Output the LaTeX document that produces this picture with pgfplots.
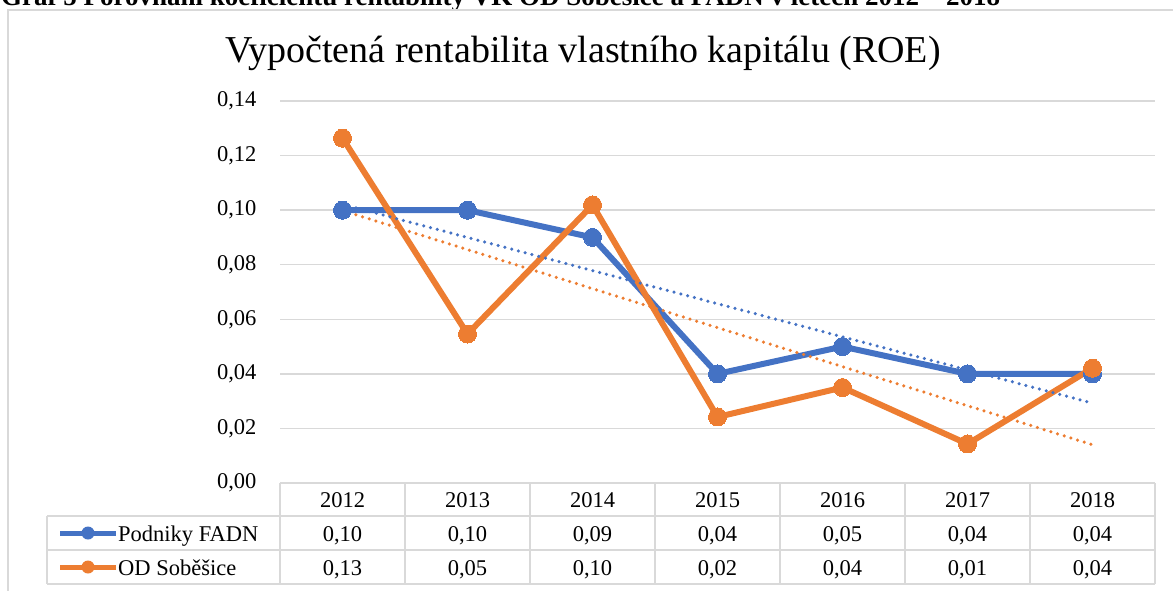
\documentclass[border=0pt]{standalone}
\usepackage{pgfplots}
\usepackage{pgfplotstable}
\pgfplotsset{compat=1.18}
\usepackage{fontspec}
\setmainfont{Liberation Serif}
\definecolor{cblue}{HTML}{4472C4}
\definecolor{corange}{HTML}{ED7D31}
\definecolor{cgrid}{HTML}{D9D9D9}

\pgfplotstableread{
x year fadn od
0 2012 0.10 0.1264
1 2013 0.10 0.0546
2 2014 0.09 0.1019
3 2015 0.04 0.0242
4 2016 0.05 0.0350
5 2017 0.04 0.0143
6 2018 0.04 0.0421
}\datatable

\newcommand{\tsz}{\fontsize{22.5}{26}\selectfont}
\begin{document}
\begin{tikzpicture}
\begin{scope}[x=1pt,y=1pt]
\useasboundingbox (0,0) rectangle (1173,-590);
% cut-off caption above the chart
\node[anchor=base west, inner sep=0pt, font=\fontsize{27}{30}\selectfont\bfseries] at (1,-5) {Graf 5 Porovnání koeficientu rentability VK OD Soběšice a FADN v letech 2012 – 2018};
% chart area border
\draw[cgrid, line width=1.5] (8,-600) -- (8,-10) -- (1180,-10);
% title
\node[anchor=base, inner sep=0pt, font=\fontsize{38}{44}\selectfont] at (583,-62) {Vypočtená rentabilita vlastního kapitálu (ROE)};
\end{scope}
\begin{axis}[
  at={(280pt,-483pt)}, anchor=south west,
  scale only axis, width=875pt, height=382pt,
  xmin=-0.5, xmax=6.5, ymin=0, ymax=0.14,
  ytick={0,0.02,0.04,0.06,0.08,0.10,0.12,0.14},
  xtick=\empty,
  axis line style={draw=none},
  major tick length=0pt,
  ymajorgrids,
  grid style={cgrid, line width=1.5pt},
  clip=false,
  yticklabel style={font=\tsz, xshift=-20pt, /pgf/number format/.cd, fixed, fixed zerofill, precision=2, use comma, assume math mode=true},
]
\addplot[cblue, line width=6pt, mark=*, mark size=9pt, mark options={solid, fill=cblue, draw=cblue, line width=0pt}] table[x=x, y=fadn] {\datatable};
\addplot[corange, line width=6pt, mark=*, mark size=9pt, mark options={solid, fill=corange, draw=corange, line width=0pt}] table[x=x, y=od] {\datatable};
\addplot[cblue, line width=3.5pt, line cap=round, dash pattern=on 0pt off 7pt] table[x=x, y={create col/linear regression={y=fadn}}] {\datatable};
\addplot[corange, line width=3.5pt, line cap=round, dash pattern=on 0pt off 7pt] table[x=x, y={create col/linear regression={y=od}}] {\datatable};
\end{axis}
\begin{scope}[x=1pt,y=1pt]
% data table
\begin{scope}[cgrid, line width=1.5pt]
\foreach \k in {0,...,7} { \draw (280+125*\k,-483) -- (280+125*\k,-584); }
\draw (47,-516) -- (1155,-516);
\draw (47,-550) -- (1155,-550);
\draw (47,-584) -- (1155,-584);
\draw (47,-516) -- (47,-584);
\end{scope}
\foreach \y [count=\i from 0] in {2012,2013,2014,2015,2016,2017,2018} {
  \node[font=\tsz, anchor=base] at (342.5+125*\i,-507) {\y};
}
\foreach \v [count=\i from 0] in {{0,10},{0,10},{0,09},{0,04},{0,05},{0,04},{0,04}} {
  \node[font=\tsz, anchor=base] at (342.5+125*\i,-541) {\v};
}
\foreach \v [count=\i from 0] in {{0,13},{0,05},{0,10},{0,02},{0,04},{0,01},{0,04}} {
  \node[font=\tsz, anchor=base] at (342.5+125*\i,-575) {\v};
}
% legend keys in the table
\draw[cblue, line width=5pt] (60,-533) -- (116,-533);
\fill[cblue] (88,-533) circle (6.5);
\draw[corange, line width=5pt] (60,-567) -- (116,-567);
\fill[corange] (88,-567) circle (6.5);
\node[font=\tsz, anchor=base west, inner sep=0pt] at (118,-541) {Podniky FADN};
\node[font=\tsz, anchor=base west, inner sep=0pt] at (118,-575) {OD Soběšice};
\end{scope}
\end{tikzpicture}
\end{document}
